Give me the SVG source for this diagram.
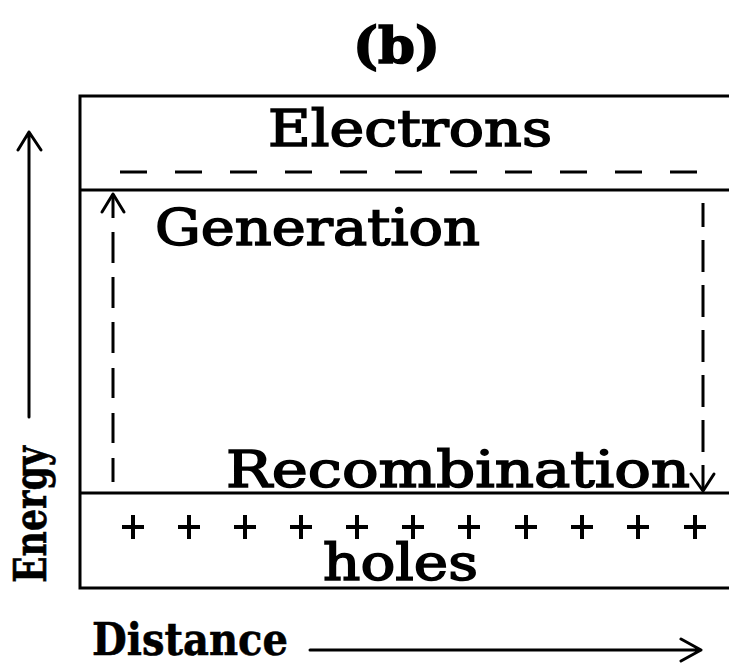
<svg xmlns="http://www.w3.org/2000/svg" width="729" height="668" viewBox="0 0 729 668">
<style>
.ln{stroke:#000;stroke-width:3;fill:none;stroke-linecap:butt}
.ar{stroke:#000;stroke-width:3;fill:none;stroke-linecap:round;stroke-linejoin:round}
.lbl{font-family:"DejaVu Serif","Liberation Serif",serif;font-size:50px;fill:#000;stroke:#000;stroke-width:1.6}
.ax{font-family:"DejaVu Serif","Liberation Serif",serif;font-weight:bold;font-size:44px;fill:#000;stroke:#000;stroke-width:0.6}
.pl{stroke:#000;stroke-width:4;fill:none}
</style>
<rect width="729" height="668" fill="#fff"/>
<g id="title"><text class="lbl" x="353" y="63" font-size="54" font-weight="bold" stroke-width="0.4" textLength="87" lengthAdjust="spacingAndGlyphs">(b)</text></g>
<g id="band-diagram">
<path class="ln" d="M80 96H729M80 190H729M80 493H729M80 588H729M80 94.5V589.5"/>
</g>
<g id="conduction-band">
<text class="lbl" x="268" y="146" textLength="284" lengthAdjust="spacingAndGlyphs">Electrons</text>
<path class="ln" d="M120 172H697" stroke-dasharray="27 28"/>
</g>
<g id="valence-band">
<g class="pl">
<path d="M122 527h22M133 515v24"/><path d="M178 527h22M189 515v24"/><path d="M234 527h22M245 515v24"/><path d="M290 527h22M301 515v24"/><path d="M346 527h22M357 515v24"/><path d="M402 527h22M413 515v24"/><path d="M458 527h22M469 515v24"/><path d="M515 527h22M526 515v24"/><path d="M571 527h22M582 515v24"/><path d="M627 527h22M638 515v24"/><path d="M684 527h22M695 515v24"/>
</g>
<text class="lbl" x="323" y="580" textLength="155" lengthAdjust="spacingAndGlyphs">holes</text>
</g>
<g id="connectors">
<g id="generation">
<path class="ln" d="M113 194V218M113 232V263M113 277V308M113 322V353M113 368V398M113 413V443M113 458V482"/>
<path class="ar" d="M102 212L113 194L124 212"/>
<text class="lbl" x="155" y="245" textLength="325" lengthAdjust="spacingAndGlyphs">Generation</text>
</g>
<g id="recombination">
<path class="ln" d="M703 203V227M703 240V272M703 285V317M703 330V362M703 375V407M703 420V452M703 465V491"/>
<path class="ar" d="M691 474L703 491L714 474"/>
<text class="lbl" x="226" y="487" textLength="464" lengthAdjust="spacingAndGlyphs">Recombination</text>
</g>
<g id="energy-axis">
<path class="ar" d="M29 417V132M18 150L29 132L41 150" stroke-width="3.5"/>
<text class="ax" transform="translate(46 583) rotate(-90)" textLength="137" lengthAdjust="spacingAndGlyphs">Energy</text>
</g>
<g id="distance-axis">
<path class="ar" d="M310 650H701M681 639L701 650L681 661" stroke-width="3.5"/>
<text class="ax" x="92" y="655" textLength="196" lengthAdjust="spacingAndGlyphs">Distance</text>
</g>
</g>
</svg>
